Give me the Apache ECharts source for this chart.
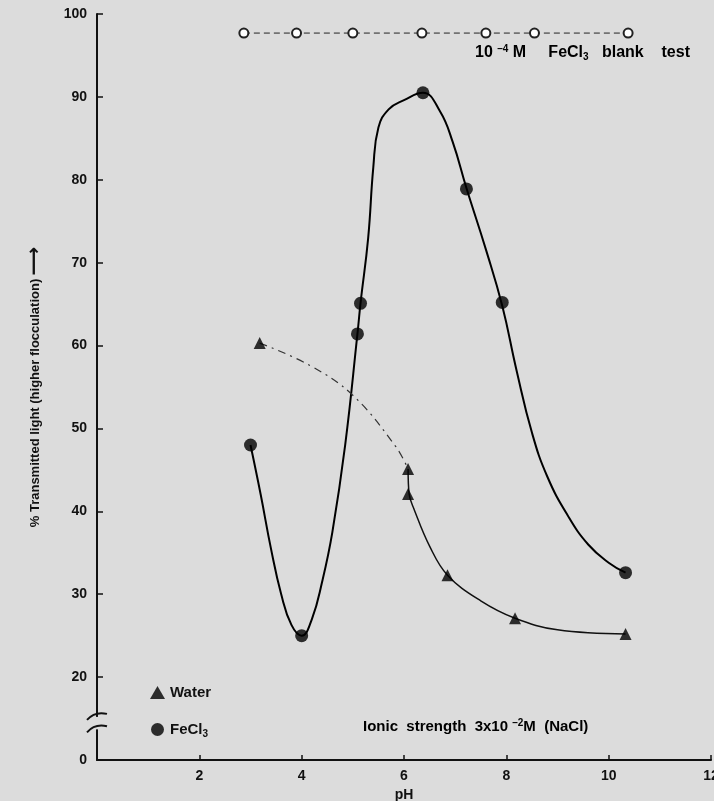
<!DOCTYPE html>
<html>
<head>
<meta charset="utf-8">
<script src="https://cdn.jsdelivr.net/npm/echarts@6/dist/echarts.min.js"></script>
<style>
  html, body { margin: 0; padding: 0; background: #dcdcdc; }
  #chart { width: 714px; height: 801px; }
</style>
</head>
<body>
<div id="chart"></div>
<script>
// x ticks and y ticks (y axis is broken between 0 and 20, so "0" sits at 10)
var xTicks = [2, 4, 6, 8, 10, 12];
var yTicks = [0, 20, 30, 40, 50, 60, 70, 80, 90, 100];

// measured points
var fecl3Points = [[3.0, 48], [4.0, 25], [5.09, 61.4], [5.15, 65.1], [6.37, 90.5], [7.22, 78.9], [7.92, 65.2], [10.33, 32.6]];
var waterPoints = [[3.18, 60.3], [6.08, 45.1], [6.08, 42.1], [6.85, 32.3], [8.17, 27.1], [10.33, 25.2]];
var blankPoints = [[2.87, 97.7], [3.9, 97.7], [5.0, 97.7], [6.35, 97.7], [7.6, 97.7], [8.55, 97.7], [10.38, 97.7]];

// hand drawn curves
var fecl3Curve = [[3.0, 48], [3.2, 42], [3.4, 35.5], [3.6, 30], [3.8, 26.3], [4.0, 25], [4.2, 27], [4.4, 31.5], [4.6, 37.5],
    [4.85, 48], [5.09, 61.4], [5.15, 65.1], [5.3, 73], [5.4, 81.5], [5.5, 86.3], [5.7, 88.5], [6.0, 89.6], [6.37, 90.5],
    [6.7, 88.3], [6.95, 84.6], [7.22, 79], [7.6, 71.6], [7.92, 64.8], [8.2, 57], [8.5, 49.5], [8.8, 44.2],
    [9.2, 39.5], [9.6, 36], [10.0, 33.8], [10.33, 32.6]];
var waterDashCurve = [[3.18, 60.3], [4.16, 57.6], [5.0, 54], [5.84, 47.8], [6.08, 45.1]];
var waterSolidCurve = [[6.08, 45.1], [6.1, 42.1], [6.2, 40.2], [6.5, 35.8], [6.85, 32.3], [7.5, 29.2], [8.17, 27.1], [9.0, 25.7], [10.33, 25.2]];

var font = 'Liberation Sans';
var ink = '#111';

var myChart = echarts.init(document.getElementById('chart'));

var option = {
    backgroundColor: '#dcdcdc',
    animation: false,
    textStyle: { fontFamily: font },
    grid: { left: 97, right: 3, top: 14, bottom: 41, outerBoundsMode: 'none' },
    xAxis: {
        type: 'value',
        min: 0, max: 12, interval: 2,
        name: 'pH',
        nameLocation: 'middle',
        nameGap: 28,
        nameTextStyle: { color: ink, fontSize: 14, fontWeight: 'bold', fontFamily: font },
        splitLine: { show: false },
        axisLine: { lineStyle: { color: ink, width: 2 } },
        axisTick: { inside: true, length: 5, lineStyle: { color: ink, width: 1.5 } },
        axisLabel: {
            color: ink, fontSize: 14, fontWeight: 'bold', margin: 9,
            formatter: function (v) { return xTicks.indexOf(v) >= 0 ? String(v) : ''; }
        }
    },
    yAxis: {
        type: 'value',
        min: 10, max: 100, interval: 10,
        name: '{a|% Transmitted light (higher flocculation)} {b|⟶}',
        nameLocation: 'middle',
        nameRotate: 90,
        nameGap: 52,
        nameTextStyle: {
            rich: {
                a: { color: ink, fontSize: 13, fontWeight: 'bold', fontFamily: font },
                b: { color: ink, fontSize: 20, fontWeight: 'bold', fontFamily: 'DejaVu Sans' }
            }
        },
        splitLine: { show: false },
        axisLine: { lineStyle: { color: ink, width: 2 } },
        axisTick: { inside: true, length: 6, lineStyle: { color: ink, width: 1.5 } },
        axisLabel: {
            color: ink, fontSize: 14, fontWeight: 'bold', margin: 10,
            formatter: function (v) {
                var shown = v === 10 ? 0 : v;
                return yTicks.indexOf(shown) >= 0 ? String(shown) : '';
            }
        }
    },
    legend: {
        orient: 'vertical',
        left: 145, top: 680,
        itemGap: 22,
        itemWidth: 15, itemHeight: 13,
        data: ['Water', 'FeCl3'],
        textStyle: {
            color: ink, fontSize: 15, fontWeight: 'bold', fontFamily: font,
            rich: {
                n: { color: ink, fontSize: 15, fontWeight: 'bold', fontFamily: font },
                s: { color: ink, fontSize: 10, fontWeight: 'bold', fontFamily: font, padding: [9, 0, 0, 0] }
            }
        },
        formatter: function (name) {
            return name === 'FeCl3' ? '{n|FeCl}{s|3}' : '{n|' + name + '}';
        }
    },
    series: [
        {
            name: 'FeCl3 curve', type: 'line', smooth: 0.45, showSymbol: false, silent: true,
            data: fecl3Curve, lineStyle: { color: '#000', width: 2 }, z: 2
        },
        {
            name: 'Water dash', type: 'line', smooth: 0.4, showSymbol: false, silent: true,
            data: waterDashCurve, lineStyle: { color: '#333', width: 1.2, type: [8, 5, 2, 5] }, z: 2
        },
        {
            name: 'Water solid', type: 'line', smooth: 0.4, showSymbol: false, silent: true,
            data: waterSolidCurve, lineStyle: { color: '#111', width: 1.5 }, z: 2
        },
        {
            name: 'Blank', type: 'line', symbol: 'emptyCircle', symbolSize: 9,
            data: blankPoints,
            lineStyle: { color: '#222', width: 1, type: [6, 4] },
            itemStyle: { color: '#222', borderWidth: 1.5 }, z: 3
        },
        {
            name: 'FeCl3', type: 'scatter', symbol: 'circle', symbolSize: 13,
            data: fecl3Points, itemStyle: { color: '#000' }, z: 4
        },
        {
            name: 'Water', type: 'scatter', symbol: 'triangle', symbolSize: 12,
            data: waterPoints, itemStyle: { color: '#000' }, z: 4
        }
    ]
};
myChart.setOption(option);

// annotations and axis break marks
var x0 = myChart.convertToPixel({ gridIndex: 0 }, [0, 14])[0];
var yHi = myChart.convertToPixel({ gridIndex: 0 }, [0, 15.2])[1];
var yLo = myChart.convertToPixel({ gridIndex: 0 }, [0, 13.7])[1];
function richFor(size) {
    return {
        t: { color: ink, fontSize: size, fontWeight: 'bold', fontFamily: font },
        sup: { color: ink, fontSize: 10, fontWeight: 'bold', fontFamily: font, padding: [0, 0, 8, 0] },
        sub: { color: ink, fontSize: 10, fontWeight: 'bold', fontFamily: font, padding: [8, 0, 0, 0] }
    };
}
myChart.setOption({
    graphic: [
        {
            type: 'text', left: 475, top: 44,
            style: { text: '{t|10 }{sup|–4}{t| M     FeCl}{sub|3}{t|   blank    test}', rich: richFor(16) }
        },
        {
            type: 'text', left: 363, top: 718,
            style: { text: '{t|Ionic  strength  3x10 }{sup|–2}{t|M  (NaCl)}', rich: richFor(15) }
        },
        {
            type: 'rect',
            shape: { x: x0 - 4, y: yHi, width: 8, height: yLo - yHi },
            style: { fill: '#dcdcdc' }, z: 100
        },
        {
            type: 'bezierCurve',
            shape: { x1: x0 - 10, y1: yHi + 3, x2: x0 + 10, y2: yHi - 3, cpx1: x0 - 2, cpy1: yHi - 6 },
            style: { stroke: ink, lineWidth: 2, fill: null }, z: 101
        },
        {
            type: 'bezierCurve',
            shape: { x1: x0 - 10, y1: yLo + 3, x2: x0 + 10, y2: yLo - 3, cpx1: x0 - 2, cpy1: yLo - 6 },
            style: { stroke: ink, lineWidth: 2, fill: null }, z: 101
        }
    ]
});
</script>
</body>
</html>
